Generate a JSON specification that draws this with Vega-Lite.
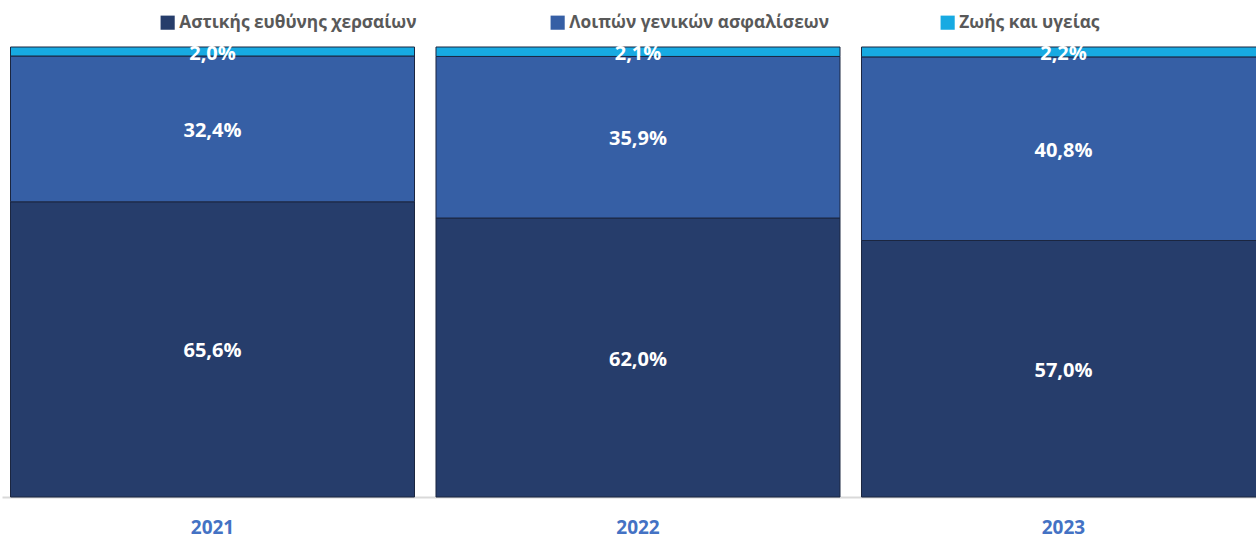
{
  "$schema": "https://vega.github.io/schema/vega-lite/v6.json",
  "width": 1272,
  "height": 450,
  "autosize": {"type": "none"},
  "padding": {"top": 47, "left": 2, "right": 0, "bottom": 50},
  "background": "white",
  "config": {
    "locale": {"number": {"decimal": ",", "thousands": ".", "grouping": [3], "currency": ["", " €"]}},
    "view": {"stroke": null},
    "font": "Noto Sans"
  },
  "data": {
    "values": [
      {"year": "2021", "cat": "Αστικής ευθύνης χερσαίων", "k": 1, "v": 0.656},
      {"year": "2021", "cat": "Λοιπών γενικών ασφαλίσεων", "k": 2, "v": 0.324},
      {"year": "2021", "cat": "Ζωής και υγείας", "k": 3, "v": 0.020},
      {"year": "2022", "cat": "Αστικής ευθύνης χερσαίων", "k": 1, "v": 0.620},
      {"year": "2022", "cat": "Λοιπών γενικών ασφαλίσεων", "k": 2, "v": 0.359},
      {"year": "2022", "cat": "Ζωής και υγείας", "k": 3, "v": 0.021},
      {"year": "2023", "cat": "Αστικής ευθύνης χερσαίων", "k": 1, "v": 0.570},
      {"year": "2023", "cat": "Λοιπών γενικών ασφαλίσεων", "k": 2, "v": 0.408},
      {"year": "2023", "cat": "Ζωής και υγείας", "k": 3, "v": 0.022}
    ]
  },
  "encoding": {
    "x": {
      "field": "year", "type": "nominal", "title": null,
      "scale": {"paddingInner": 0.0505, "paddingOuter": 0.02},
      "axis": {
        "labelAngle": 0, "ticks": false, "labelPadding": 21,
        "labelColor": "#4472C4", "labelFontWeight": "bold", "labelFontSize": 19,
        "labelFont": "Open Sans",
        "domainColor": "#d9d9d9", "domainWidth": 2, "grid": false
      }
    }
  },
  "layer": [
    {
      "mark": {"type": "bar", "stroke": "#1b2640", "strokeWidth": 1},
      "encoding": {
        "y": {"field": "v", "type": "quantitative", "stack": "zero", "scale": {"domain": [0, 1]}, "axis": null},
        "order": {"field": "k", "type": "quantitative"},
        "color": {
          "field": "cat", "type": "nominal",
          "scale": {
            "domain": ["Αστικής ευθύνης χερσαίων", "Λοιπών γενικών ασφαλίσεων", "Ζωής και υγείας"],
            "range": ["#263D6B", "#365FA5", "#17AAE2"]
          },
          "legend": {
            "title": null, "orient": "none", "direction": "horizontal",
            "legendX": 157, "legendY": -33,
            "symbolType": "square", "symbolSize": 200, "symbolStrokeWidth": 0,
            "labelFontSize": 17.3, "labelColor": "#595959", "labelFontWeight": "bold",
            "labelFont": "Open Sans", "labelOffset": 3,
            "columnPadding": 110, "gridAlign": "all", "labelLimit": 400
          }
        }
      }
    },
    {
      "mark": {"type": "text", "color": "white", "fontWeight": "bold", "fontSize": 20, "font": "Open Sans", "baseline": "middle", "dy": 2},
      "encoding": {
        "y": {"field": "v", "type": "quantitative", "stack": "zero", "bandPosition": 0.5},
        "order": {"field": "k", "type": "quantitative"},
        "detail": {"field": "cat", "type": "nominal"},
        "text": {"field": "v", "type": "quantitative", "format": ".1%"}
      }
    }
  ]
}
